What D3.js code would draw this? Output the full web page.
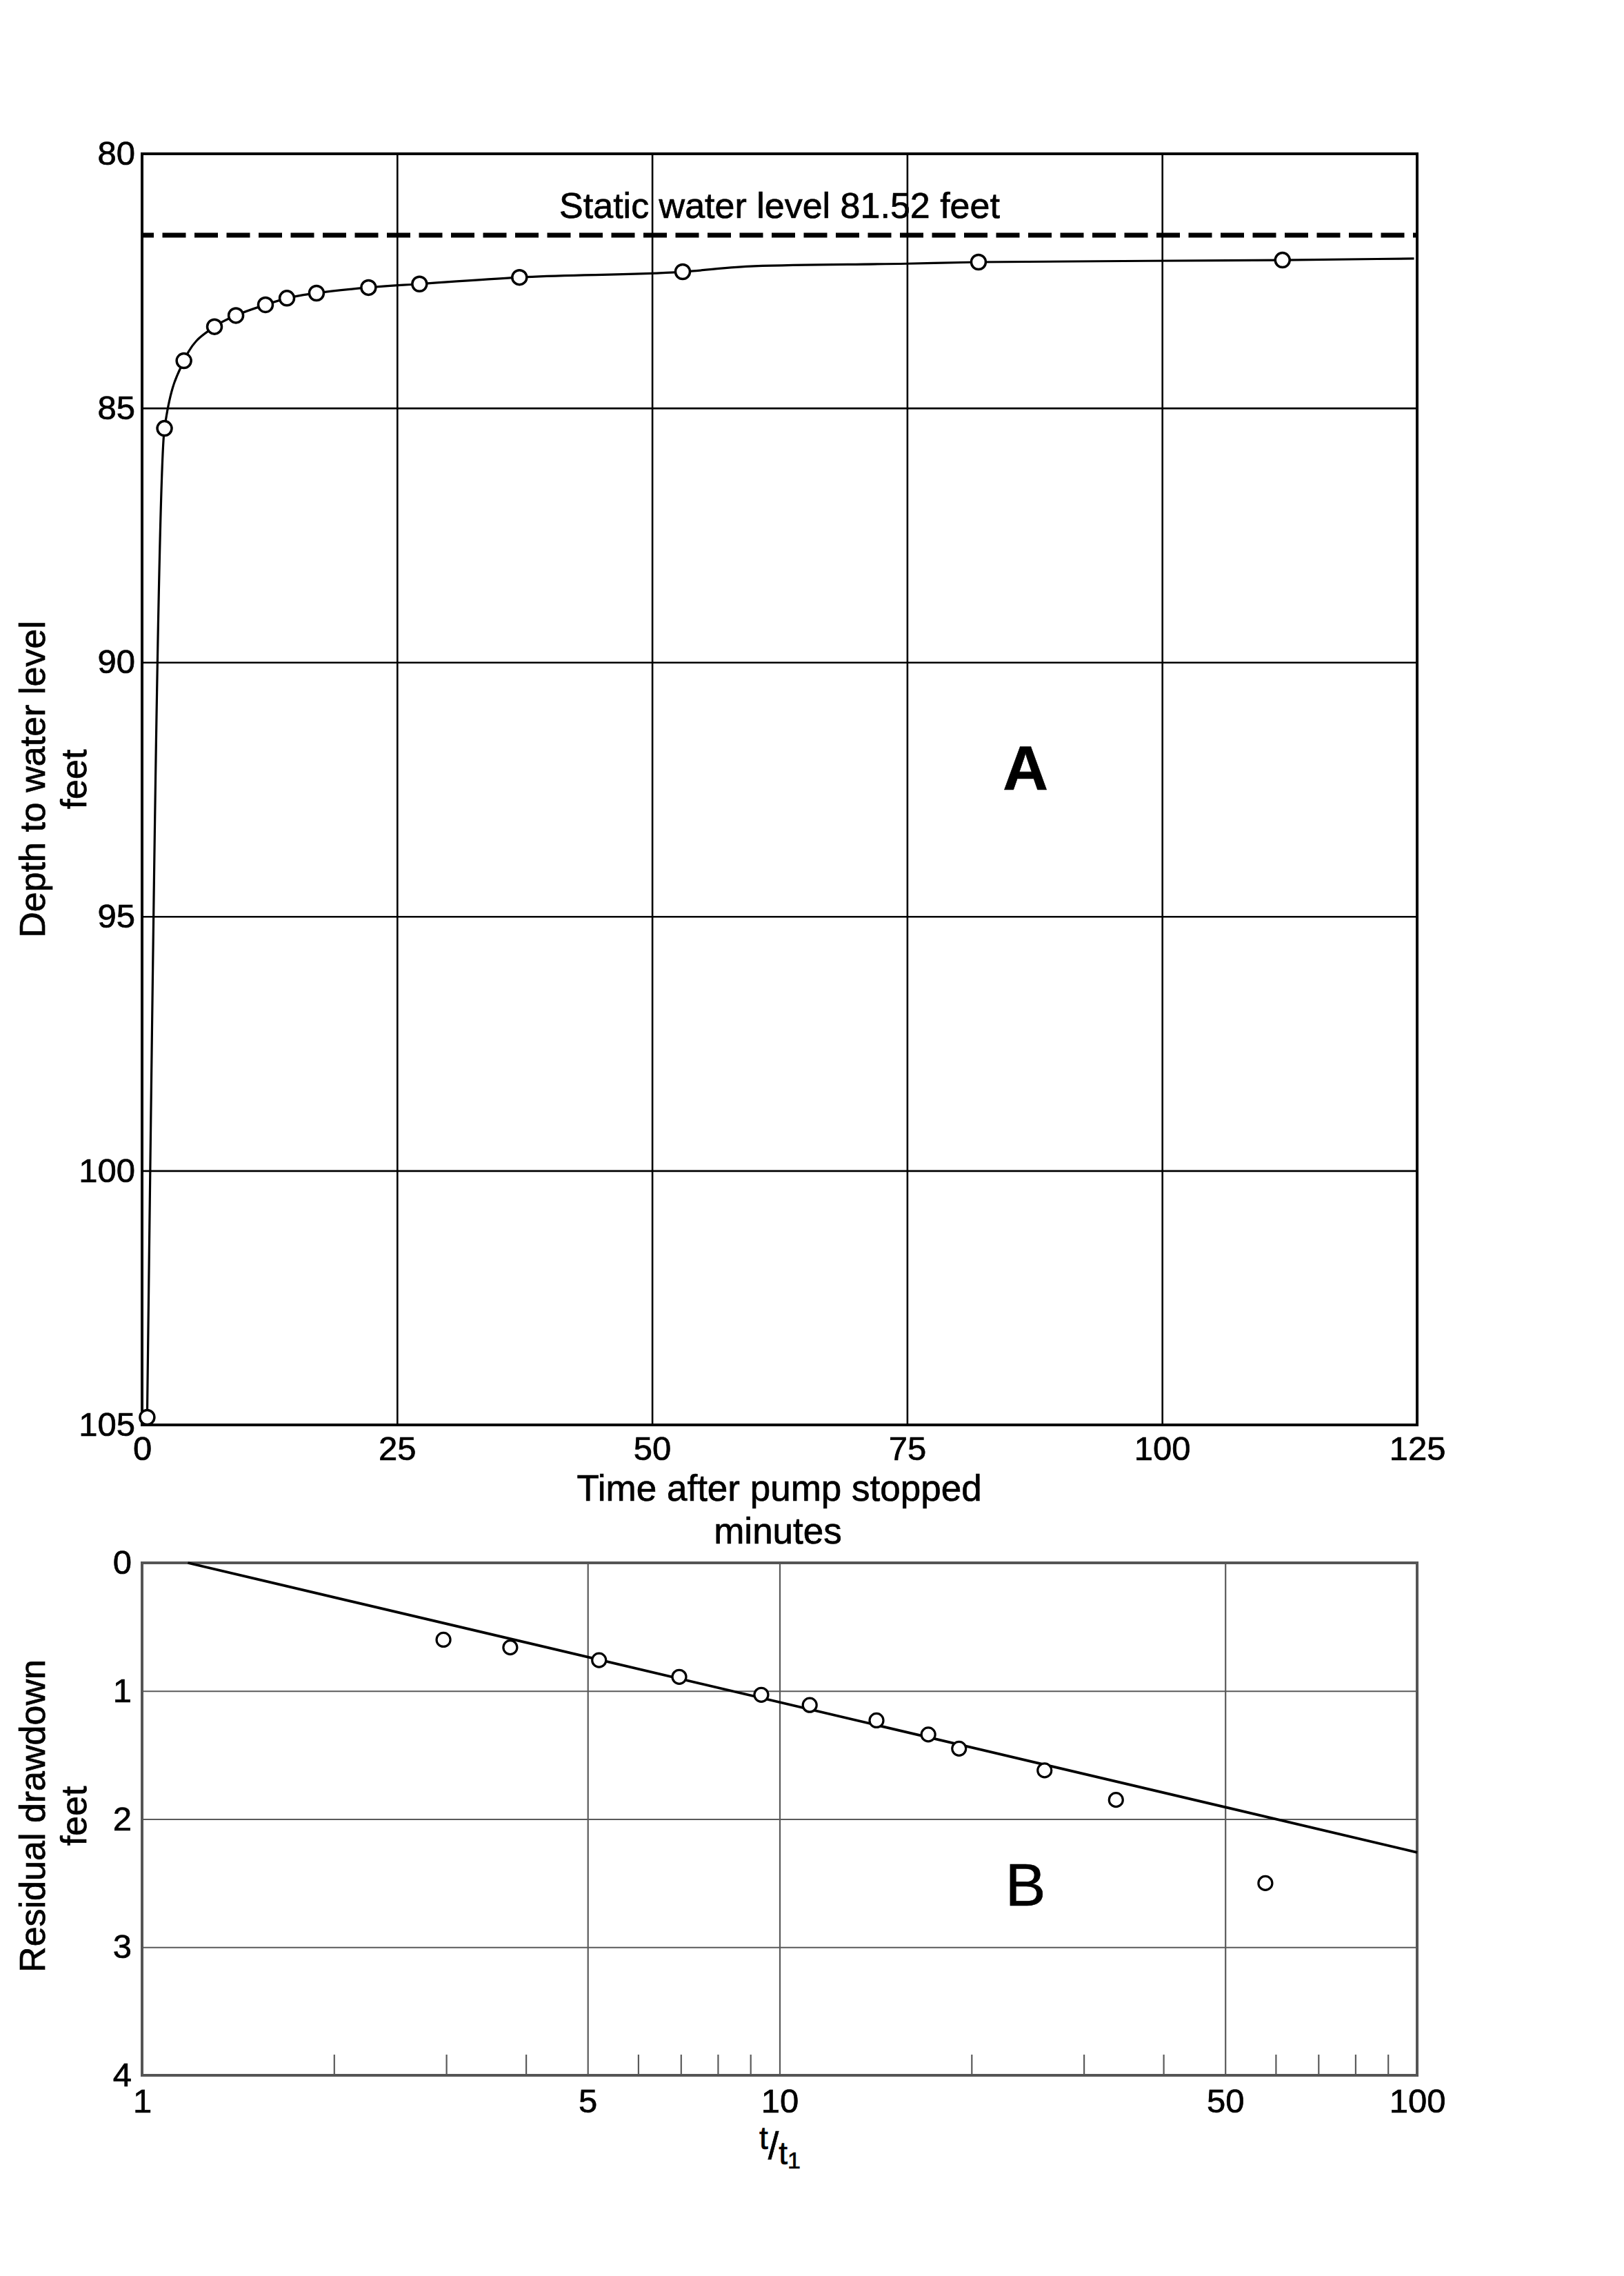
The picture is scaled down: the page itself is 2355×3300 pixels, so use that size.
<!DOCTYPE html>
<html><head><meta charset="utf-8">
<script src="https://cdn.jsdelivr.net/npm/d3@7"></script>
<style>
html,body{margin:0;padding:0;background:#fff;}
svg{display:block;}
text{font-family:"Liberation Sans",Arial,Helvetica,sans-serif;fill:#000;stroke:#000;stroke-width:0.7px;}
</style></head><body>
<svg id="chart" width="2355" height="3300"></svg>
<script>
// ---------- DATA ----------
// Chart A: depth to water level after pump stopped
const timeA  = [0.5, 2.2, 4.1, 7.1, 9.2, 12.1, 14.2, 17.1, 22.2, 27.2, 37.0, 53.0, 82.0, 111.8];
const depthA = [104.85, 85.40, 84.07, 83.40, 83.18, 82.97, 82.84, 82.74, 82.63, 82.56, 82.43, 82.32, 82.13, 82.09];
// hand-fitted recovery curve nodes
const curveTimeA  = [0.5, 2.2, 4.1, 7.1, 9.2, 12.1, 14.2, 17.1, 22.2, 27.2, 37.0, 53.0, 60.0, 75.0, 82.0, 111.8, 124.7];
const curveDepthA = [104.85, 85.40, 84.07, 83.40, 83.18, 82.97, 82.84, 82.74, 82.63, 82.56, 82.43, 82.32, 82.21, 82.16, 82.13, 82.09, 82.06];
const staticLevelLabel = "Static water level 81.52 feet";
const staticLine = 81.6;
const xTicksA = [0, 25, 50, 75, 100, 125];
const yTicksA = [80, 85, 90, 95, 100, 105];
const xGridA = [25, 50, 75, 100];
const yGridA = [85, 90, 95, 100];

// Chart B: residual drawdown vs t/t1
const ratioB    = [2.97, 3.78, 5.21, 6.96, 9.36, 11.15, 14.19, 17.11, 19.12, 26.04, 33.7, 57.8];
const drawdownB = [0.60, 0.66, 0.76, 0.89, 1.03, 1.11, 1.23, 1.34, 1.45, 1.62, 1.85, 2.50];
const fitRatioB    = [1.18, 100];
const fitDrawdownB = [0, 2.26];
const xTicksB = [1, 5, 10, 50, 100];
const xMinorB = [2, 3, 4, 6, 7, 8, 9, 20, 30, 40, 60, 70, 80, 90];
const xGridB = [5, 10, 50];
const yTicksB = [0, 1, 2, 3, 4];
const yGridB = [1, 2, 3];

// ---------- DRAW ----------
const svg = d3.select("#chart");
svg.append("rect").attr("width", 2355).attr("height", 3300).attr("fill", "#fff");

const A = {left: 206, right: 2055, top: 223, bottom: 2066};
const B = {left: 206, right: 2055, top: 2266, bottom: 3009};
const tickFont = 49, titleFont = 52;

const xA = d3.scaleLinear().domain([0, 125]).range([A.left, A.right]);
const yA = d3.scaleLinear().domain([80, 105]).range([A.top, A.bottom]);
const xB = d3.scaleLog().domain([1, 100]).range([B.left, B.right]);
const yB = d3.scaleLinear().domain([0, 4]).range([B.top, B.bottom]);

function styleGrid(g, color, w) {
  g.select(".domain").remove();
  g.selectAll("line").attr("stroke", color).attr("stroke-width", w);
}
function styleLabels(g) {
  g.select(".domain").remove();
  g.selectAll("text").attr("font-size", tickFont).attr("fill", "#000").attr("font-family", null);
}

// ---- Chart A grid ----
svg.append("g").attr("transform", `translate(0,${A.bottom})`)
  .call(d3.axisBottom(xA).tickValues(xGridA).tickSize(-(A.bottom - A.top)).tickFormat(""))
  .call(g => styleGrid(g, "#000", 2.6));
svg.append("g").attr("transform", `translate(${A.left},0)`)
  .call(d3.axisLeft(yA).tickValues(yGridA).tickSize(-(A.right - A.left)).tickFormat(""))
  .call(g => styleGrid(g, "#000", 2.6));

// frame A
svg.append("rect").attr("x", A.left).attr("y", A.top)
  .attr("width", A.right - A.left).attr("height", A.bottom - A.top)
  .attr("fill", "none").attr("stroke", "#000").attr("stroke-width", 4);

// tick labels A
svg.append("g").attr("transform", `translate(0,${A.bottom})`)
  .call(d3.axisBottom(xA).tickValues(xTicksA).tickSize(0).tickPadding(16).tickFormat(d3.format("d")))
  .call(styleLabels);
svg.append("g").attr("transform", `translate(${A.left},0)`)
  .call(d3.axisLeft(yA).tickValues(yTicksA).tickSize(0).tickPadding(10).tickFormat(d3.format("d")))
  .call(styleLabels);

// static water level dashed line
svg.append("line")
  .attr("x1", A.left).attr("x2", A.right)
  .attr("y1", yA(staticLine)).attr("y2", yA(staticLine))
  .attr("stroke", "#000").attr("stroke-width", 7)
  .attr("stroke-dasharray", "34,12.5").attr("stroke-dashoffset", 17);
svg.append("text")
  .attr("x", xA(62.5)).attr("y", yA(staticLine) - 25)
  .attr("text-anchor", "middle").attr("font-size", titleFont)
  .text(staticLevelLabel);

// recovery curve
const curveA = curveTimeA.map((t, i) => [t, curveDepthA[i]]);
svg.append("path").datum(curveA)
  .attr("d", d3.line().x(d => xA(d[0])).y(d => yA(d[1])).curve(d3.curveMonotoneX))
  .attr("fill", "none").attr("stroke", "#000").attr("stroke-width", 3.2);

// observed points A
svg.append("g").selectAll("circle")
  .data(timeA.map((t, i) => [t, depthA[i]]))
  .join("circle")
  .attr("cx", d => xA(d[0])).attr("cy", d => yA(d[1])).attr("r", 10.5)
  .attr("fill", "#fff").attr("stroke", "#000").attr("stroke-width", 3.5);

// titles A
svg.append("text").attr("x", 1130).attr("y", 2176).attr("text-anchor", "middle")
  .attr("font-size", 53).text("Time after pump stopped");
svg.append("text").attr("x", 1128).attr("y", 2238).attr("text-anchor", "middle")
  .attr("font-size", 53).text("minutes");
svg.append("text").attr("transform", "translate(65,1130) rotate(-90)").attr("text-anchor", "middle")
  .attr("font-size", titleFont).text("Depth to water level");
svg.append("text").attr("transform", "translate(125,1130) rotate(-90)").attr("text-anchor", "middle")
  .attr("font-size", titleFont).text("feet");
svg.append("text").attr("x", xA(86.6)).attr("y", yA(92.5)).attr("text-anchor", "middle")
  .attr("font-size", 91).attr("font-weight", "bold").text("A");

// ---- Chart B grid ----
svg.append("g").attr("transform", `translate(0,${B.bottom})`)
  .call(d3.axisBottom(xB).tickValues(xGridB).tickSize(-(B.bottom - B.top)).tickFormat(""))
  .call(g => styleGrid(g, "#5a5a5a", 2.2));
svg.append("g").attr("transform", `translate(${B.left},0)`)
  .call(d3.axisLeft(yB).tickValues(yGridB).tickSize(-(B.right - B.left)).tickFormat(""))
  .call(g => styleGrid(g, "#5a5a5a", 2.2));
// minor ticks B
svg.append("g").attr("transform", `translate(0,${B.bottom})`)
  .call(d3.axisBottom(xB).tickValues(xMinorB).tickSize(-30).tickFormat(""))
  .call(g => styleGrid(g, "#5a5a5a", 2.2));

// frame B
svg.append("rect").attr("x", B.left).attr("y", B.top)
  .attr("width", B.right - B.left).attr("height", B.bottom - B.top)
  .attr("fill", "none").attr("stroke", "#555").attr("stroke-width", 4);

// tick labels B
svg.append("g").attr("transform", `translate(0,${B.bottom})`)
  .call(d3.axisBottom(xB).tickValues(xTicksB).tickSize(0).tickPadding(19).tickFormat(d3.format("d")))
  .call(styleLabels);
svg.append("g").attr("transform", `translate(${B.left},0)`)
  .call(d3.axisLeft(yB).tickValues(yTicksB).tickSize(0).tickPadding(15).tickFormat(d3.format("d")))
  .call(styleLabels);

// fitted line B
svg.append("path").datum(fitRatioB.map((r, i) => [r, fitDrawdownB[i]]))
  .attr("d", d3.line().x(d => xB(d[0])).y(d => yB(d[1])))
  .attr("fill", "none").attr("stroke", "#000").attr("stroke-width", 3.8);

// observed points B
svg.append("g").selectAll("circle")
  .data(ratioB.map((r, i) => [r, drawdownB[i]]))
  .join("circle")
  .attr("cx", d => xB(d[0])).attr("cy", d => yB(d[1])).attr("r", 10)
  .attr("fill", "#fff").attr("stroke", "#000").attr("stroke-width", 3.2);

// titles B
svg.append("text").attr("transform", "translate(65,2633) rotate(-90)").attr("text-anchor", "middle")
  .attr("font-size", titleFont).text("Residual drawdown");
svg.append("text").attr("transform", "translate(125,2633) rotate(-90)").attr("text-anchor", "middle")
  .attr("font-size", titleFont).text("feet");
const tt = svg.append("text").attr("x", 1131).attr("y", 3116).attr("text-anchor", "middle");
tt.append("tspan").attr("font-size", 46).text("t");
tt.append("tspan").attr("font-size", 56).attr("dy", 14).text("/");
tt.append("tspan").attr("font-size", 46).attr("dy", 8).text("t");
tt.append("tspan").attr("font-size", 34).attr("dy", 6).text("1");
svg.append("text").attr("x", 1487).attr("y", 2763).attr("text-anchor", "middle")
  .attr("font-size", 88).text("B");
</script>
</body></html>
